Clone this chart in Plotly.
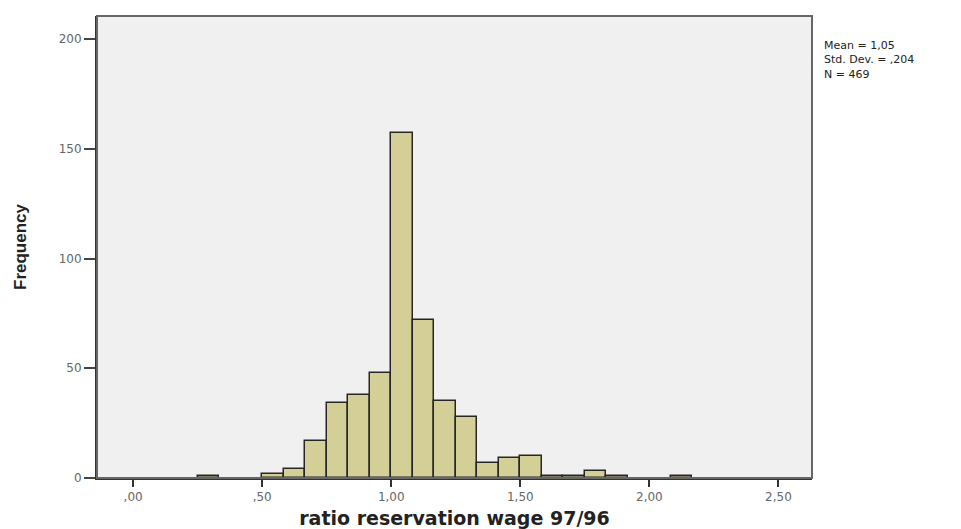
import plotly.graph_objects as go

# Histogram data (bin lower edges, width 1/12)
bin_left = [0.25, 0.5, 0.5833, 0.6667, 0.75, 0.8333, 0.9167, 1.0, 1.0833,
            1.1667, 1.25, 1.3333, 1.4167, 1.5, 1.5833, 1.6667, 1.75, 1.8333, 2.0833]
counts = [1, 2, 4, 17, 34, 38, 48, 157, 72, 35, 28, 7, 9, 10, 1, 1, 3, 1, 1]
bin_width = 1 / 12

x_tick_vals = [0.0, 0.5, 1.0, 1.5, 2.0, 2.5]
x_tick_text = [",00", ",50", "1,00", "1,50", "2,00", "2,50"]
y_tick_vals = [0, 50, 100, 150, 200]

stats_lines = ["Mean = 1,05", "Std. Dev. = ,204", "N = 469"]

centers = [b + bin_width / 2 for b in bin_left]

fig = go.Figure()
fig.add_trace(go.Bar(
    x=centers, y=counts, width=bin_width,
    marker=dict(color="#d4cf97", line=dict(color="#262626", width=1.5)),
    hoverinfo="x+y",
))

fig.update_layout(
    width=953, height=521,
    margin=dict(l=89, r=149, t=8, b=51, autoexpand=False),
    paper_bgcolor="white",
    plot_bgcolor="#f0f0f0",
    showlegend=False,
    bargap=0,
    xaxis=dict(
        range=[-0.14, 2.63],
        automargin=False,
        tickvals=x_tick_vals, ticktext=x_tick_text,
        ticks="outside", ticklen=7, tickwidth=2, tickcolor="#333",
        showgrid=False, zeroline=False,
        showline=True, linecolor="#333", linewidth=2,
        tickfont=dict(family="DejaVu Sans, Verdana", size=12, color="#666"),
        title=dict(text="<b>ratio reservation wage 97/96</b>",
                   font=dict(family="DejaVu Sans, Verdana", size=19, color="#222"),
                   standoff=9),
    ),
    yaxis=dict(
        range=[0, 210.5],
        automargin=False,
        tickvals=y_tick_vals,
        ticks="outside", ticklen=11, tickwidth=2, tickcolor="#444",
        showgrid=False, zeroline=False,
        showline=True, linecolor="#333", linewidth=2,
        tickfont=dict(family="DejaVu Sans, Verdana", size=12, color="#666"),
        title=dict(text="<b>Frequency</b>",
                   font=dict(family="Liberation Sans, Arial", size=17, color="#222"),
                   standoff=28),
    ),
)

# frame around the plot area (top and right)
fig.add_shape(type="rect", xref="paper", yref="paper", x0=0, y0=0, x1=1, y1=1,
              line=dict(color="#666", width=2), layer="above")

fig.add_annotation(
    text="<br>".join(stats_lines), xref="paper", yref="paper", x=1.0, xanchor="left",
    xshift=10, y=1, yanchor="top", yshift=-21, showarrow=False, align="left",
    font=dict(family="DejaVu Sans, Verdana", size=11, color="#222"),
)

fig.write_html("out.html")
